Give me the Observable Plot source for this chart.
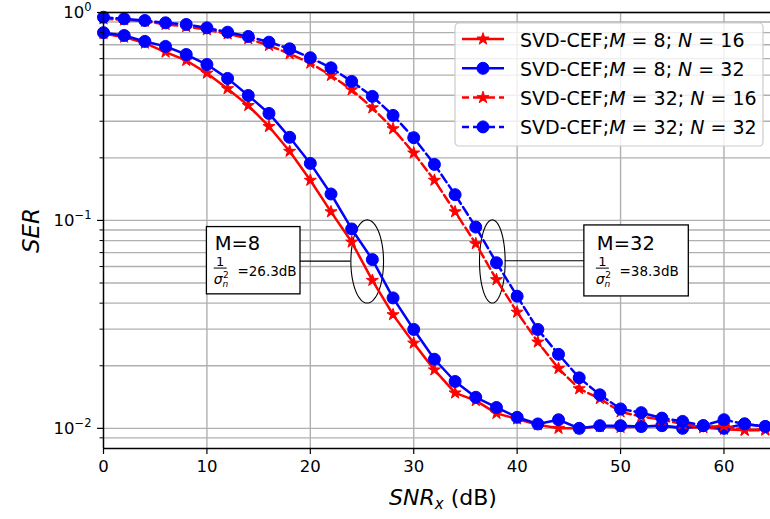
<!DOCTYPE html>
<html>
<head>
<meta charset="utf-8">
<script src="https://cdn.jsdelivr.net/npm/d3@7"></script>
<script src="https://cdn.jsdelivr.net/npm/@observablehq/plot@0.6"></script>
<style>
html,body{margin:0;padding:0;background:#fff;}
#chart{width:770px;height:519px;overflow:hidden;}
svg{display:block;}
</style>
</head>
<body>
<div id="chart"></div>
<script>
// ---------- data ----------
const snr = [0,2,4,6,8,10,12,14,16,18,20,22,24,26,28,30,32,34,36,38,40,42,44,46,48,50,52,54,56,58,60,62,64];
const serM8N16 = [0.793,0.761,0.712,0.645,0.588,0.511,0.430,0.357,0.283,0.215,0.156,0.110,0.0787,0.0515,0.0352,0.0257,0.0191,0.0148,0.0136,0.0118,0.0111,0.0104,0.0100,0.0100,0.0102,0.0101,0.0102,0.0103,0.0101,0.0101,0.0099,0.0098,0.0099];
const serM8N32 = [0.800,0.775,0.726,0.687,0.628,0.562,0.482,0.399,0.327,0.251,0.188,0.134,0.091,0.0648,0.0424,0.0299,0.0215,0.0168,0.0141,0.0126,0.0113,0.0105,0.0110,0.0100,0.0103,0.0103,0.0102,0.0103,0.0100,0.0103,0.0100,0.0105,0.0102];
const serM32N16 = [0.933,0.922,0.908,0.876,0.856,0.826,0.790,0.748,0.694,0.633,0.571,0.498,0.425,0.348,0.276,0.211,0.156,0.110,0.0773,0.0519,0.0362,0.0260,0.0194,0.0155,0.0139,0.0120,0.0114,0.0110,0.0105,0.0101,0.0103,0.0098,0.0098];
const serM32N32 = [0.949,0.933,0.915,0.892,0.876,0.844,0.804,0.767,0.720,0.669,0.606,0.542,0.466,0.395,0.320,0.250,0.186,0.133,0.0929,0.0626,0.0432,0.0299,0.0227,0.0175,0.0145,0.0124,0.0119,0.0112,0.0108,0.0103,0.0110,0.0105,0.0102];
const seriesValues = [serM8N16, serM8N32, serM32N16, serM32N32];
const seriesPrefix = ["SVD-CEF;","SVD-CEF;","SVD-CEF;","SVD-CEF;"];
const seriesM = ["8","8","32","32"];
const seriesN = ["16","32","16","32"];

const xTicks = [0,10,20,30,40,50,60];
const yMajorTicks = [1, 0.1, 0.01];
const yMajorExp = ["0","\u22121","\u22122"];
const yMinorTicks = [0.009,0.02,0.03,0.04,0.05,0.06,0.07,0.08,0.09,0.2,0.3,0.4,0.5,0.6,0.7,0.8,0.9];

const annLabel = ["M=8","M=32"];
const annValue = ["=26.3dB","=38.3dB"];
const annBoxX1 = [10.0, 46.5];
const annBoxX2 = [19.05, 56.6];
const annBoxTop = [0.0929, 0.0946];
const annBoxBottom = [0.0441, 0.0431];
const annEllX = [25.5, 37.6];
const annEllY = [0.0635, 0.0635];
const annEllRX = [1.58, 1.24];      // dB
const annEllRYdec = [0.2, 0.2];     // decades
const annLinkY = [0.0637, 0.0640];

// ---------- styles ----------
const seriesColor = ["#ff0000","#0000ff","#ff0000","#0000ff"];
const seriesDash = [null,null,"9,4","9,4"];
const seriesSymbol = ["star","circle","star","circle"];
const seriesRadius = [3.8, 6, 3.8, 6];

// ---------- tables ----------
const rows = seriesValues.map((vals, s) => snr.map((x, j) => ({x, y: vals[j], s})));
const ann = annLabel.map((l, i) => {
  const boxLeftOfEllipse = annBoxX2[i] < annEllX[i];
  return {
    i, x1: annBoxX1[i], x2: annBoxX2[i], top: annBoxTop[i], bottom: annBoxBottom[i],
    ly: annLinkY[i],
    lx1: boxLeftOfEllipse ? annBoxX2[i] : annEllX[i] + annEllRX[i],
    lx2: boxLeftOfEllipse ? annEllX[i] - annEllRX[i] : annBoxX1[i]
  };
});
const ellPts = [];
annEllX.forEach((cx, i) => {
  for (let k = 0; k <= 96; k++) {
    const a = k / 96 * 2 * Math.PI;
    ellPts.push({id: i, x: cx + annEllRX[i] * Math.cos(a), y: Math.pow(10, Math.log10(annEllY[i]) + annEllRYdec[i] * Math.sin(a))});
  }
});

const seriesMarks = [];
rows.forEach((r, s) => {
  const lineOpts = {x: "x", y: "y", stroke: seriesColor[s], strokeWidth: 2.5, strokeLinejoin: "round"};
  if (seriesDash[s]) lineOpts.strokeDasharray = seriesDash[s];
  seriesMarks.push(Plot.line(r, lineOpts));
  seriesMarks.push(Plot.dot(r, {x: "x", y: "y", symbol: seriesSymbol[s], r: seriesRadius[s], fill: seriesColor[s], stroke: seriesColor[s], strokeWidth: 1}));
});

const chart = Plot.plot({
  width: 770, height: 519,
  marginLeft: 103, marginRight: 0, marginTop: 12, marginBottom: 71,
  x: {domain: [0, 64.5]},
  y: {type: "log", domain: [0.008, 1]},
  style: {fontFamily: "'DejaVu Sans', sans-serif", fontSize: "16px", color: "#000", background: "#fff", overflow: "visible"},
  marks: [
    Plot.ruleX(xTicks, {stroke: "#b0b0b0", strokeWidth: 1.4}),
    Plot.ruleY(yMajorTicks.concat(yMinorTicks), {stroke: "#b0b0b0", strokeWidth: 1.4}),
    Plot.line(ellPts, {x: "x", y: "y", z: "id", stroke: "#000", strokeWidth: 1.1}),
    Plot.ruleY(ann, {y: "ly", x1: "lx1", x2: "lx2", stroke: "#000", strokeWidth: 1.1}),
    Plot.rect(ann, {x1: "x1", x2: "x2", y1: "top", y2: "bottom", fill: "#fff", stroke: "#000", strokeWidth: 1.3}),
    ...seriesMarks,
    Plot.axisX(xTicks, {tickSize: 6, tickPadding: 6, fontSize: 16.5, strokeWidth: 1.2, label: null}),
    Plot.axisY(yMajorTicks, {tickSize: 6, tickPadding: 6, fontSize: 16.5, strokeWidth: 1.2, label: null,
      tickFormat: d => "10^" + yMajorExp[yMajorTicks.indexOf(d)]}),
    Plot.axisY(yMinorTicks, {tickSize: 3.5, strokeWidth: 1, label: null, tickFormat: () => ""}),
    Plot.ruleX([0], {stroke: "#000", strokeWidth: 1.4}),
    Plot.ruleY([1, 0.008], {stroke: "#000", strokeWidth: 1.4}),
    Plot.text(["SNRx (dB)"], {frameAnchor: "bottom", dx: 6, dy: 56, lineAnchor: "bottom", textAnchor: "middle", fontSize: 22, text: d => d}),
    Plot.text(["SER"], {frameAnchor: "left", dx: -72, rotate: -90, textAnchor: "middle", fontSize: 23, fontStyle: "italic", text: d => d})
  ]
});
document.getElementById("chart").appendChild(chart);

// ---------- rich text helper ----------
function rich(el, segs) {
  const t = d3.select(el);
  t.selectAll("*").remove();
  t.text(null);
  let shift = 0;
  for (const s of segs) {
    const ts = t.append("tspan").text(s.t);
    if (s.italic) ts.attr("font-style", "italic");
    if (s.size) ts.attr("font-size", s.size);
    const target = s.shift || 0;
    const d = -(target - shift);
    if (d) ts.attr("dy", d);
    shift = target;
  }
}

const svg = d3.select(chart);
svg.selectAll("text").each(function() {
  const s = this.textContent;
  if (s.startsWith("10^")) {
    rich(this, [{t: "10"}, {t: s.slice(3), size: 11.5, shift: 7}]);
  } else if (s === "SNRx (dB)") {
    rich(this, [{t: "SNR", italic: true}, {t: "x", italic: true, size: 15, shift: -4}, {t: " (dB)", shift: 0}]);
  }
});

// scales
let X, Y;
try {
  const sx = chart.scale("x"), sy = chart.scale("y");
  X = v => sx.apply(v); Y = v => sy.apply(v);
  if (!isFinite(X(10))) throw 0;
} catch (e) {
  const lx = d3.scaleLinear([0, 64.5], [103, 770]);
  const ly = d3.scaleLog([0.008, 1], [448, 12]);
  X = lx; Y = ly;
}

// annotation texts
const annPad = [[7.3, 0], [12, 1.7]];
annLabel.forEach((lab, i) => {
  const [px, py] = annPad[i];
  const g = svg.append("g").attr("transform", `translate(${X(annBoxX1[i])},${Y(annBoxTop[i])})`)
    .attr("font-family", "'DejaVu Sans', sans-serif").attr("fill", "#000").attr("text-anchor", "start");
  g.append("text").attr("x", px + 1).attr("y", 23.5 + py).attr("font-size", 19.5).text(lab);
  g.append("line").attr("x1", px).attr("x2", px + 13).attr("y1", 41.5 + py).attr("y2", 41.5 + py).attr("stroke", "#000").attr("stroke-width", 1);
  g.append("text").attr("x", px + 6.5).attr("y", 39.3 + py).attr("font-size", 13).attr("text-anchor", "middle").text("1");
  g.append("text").attr("x", px).attr("y", 57.3 + py).attr("font-size", 14).attr("font-style", "italic").text("\u03c3");
  g.append("text").attr("x", px + 9.3).attr("y", 51 + py).attr("font-size", 9).text("2");
  g.append("text").attr("x", px + 8.7).attr("y", 60 + py).attr("font-size", 9).attr("font-style", "italic").text("n");
  g.append("text").attr("x", px + 23.7).attr("y", 49.3 + py).attr("font-size", 13.5).text(annValue[i]);
});

// legend
const lg = svg.append("g").attr("transform", "translate(455,23)").attr("font-family", "'DejaVu Sans', sans-serif").attr("text-anchor", "start");
lg.append("rect").attr("width", 308).attr("height", 123).attr("rx", 4)
  .attr("fill", "#fff").attr("fill-opacity", 0.8).attr("stroke", "#cccccc").attr("stroke-width", 1.2);
seriesM.forEach((m, i) => {
  const cy = 16 + i * 29.3;
  const ln = lg.append("line").attr("x1", 7).attr("x2", 49).attr("y1", cy).attr("y2", cy)
    .attr("stroke", seriesColor[i]).attr("stroke-width", 2.5);
  if (seriesDash[i]) ln.attr("stroke-dasharray", "9,4").attr("stroke-dashoffset", 2);
  const symType = seriesSymbol[i] === "star" ? d3.symbolStar : d3.symbolCircle;
  lg.append("path").attr("d", d3.symbol(symType, Math.PI * seriesRadius[i] * seriesRadius[i])())
    .attr("transform", `translate(28,${cy})`).attr("fill", seriesColor[i]).attr("stroke", seriesColor[i]).attr("stroke-width", 1);
  const t = lg.append("text").attr("x", 65).attr("y", cy + 7.5).attr("font-size", 19).attr("fill", "#000");
  rich(t.node(), [{t: seriesPrefix[i]}, {t: "M", italic: true}, {t: " = " + m + "; "}, {t: "N", italic: true}, {t: " = " + seriesN[i]}]);
});
</script>
</body>
</html>
